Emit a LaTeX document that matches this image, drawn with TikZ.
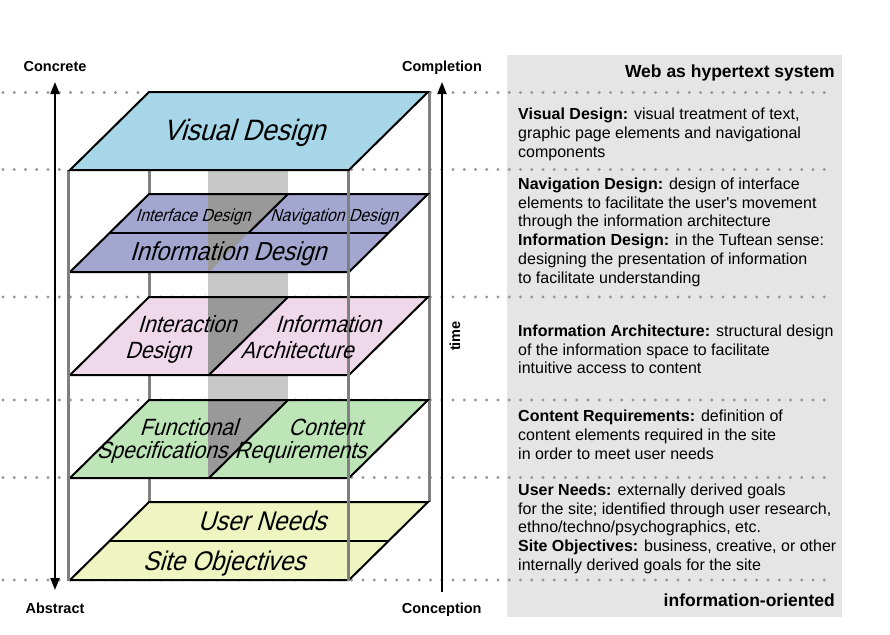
\documentclass[tikz,border=0pt]{standalone}
\usepackage{fontspec}
\setmainfont{Liberation Sans}
\newfontfamily\layerfont[FakeSlant=0.3,FakeStretch=0.9]{Liberation Sans}
\usetikzlibrary{arrows.meta}
\definecolor{vdblue}{RGB}{166,214,231}
\definecolor{lavl}{RGB}{163,166,207}
\definecolor{pinkl}{RGB}{239,216,234}
\definecolor{greenl}{RGB}{189,229,184}
\definecolor{yelll}{RGB}{238,245,192}
\definecolor{bandgray}{RGB}{200,200,200}
\definecolor{darkband}{RGB}{153,153,153}
\definecolor{postgray}{RGB}{128,128,128}
\definecolor{panelgray}{RGB}{229,229,229}
\definecolor{dotgray}{RGB}{150,150,150}
\begin{document}
\begin{tikzpicture}[x=1pt,y=-1pt,
  layer/.style={draw=black,line width=2pt,line join=miter},
  divider/.style={draw=black,line width=2pt},
  post/.style={draw=postgray,line width=3pt},
  dotrow/.style={draw=dotgray,line width=3.4pt,line cap=round,dash pattern=on 0pt off 11.25pt},
  axisline/.style={draw=black,line width=2pt},
  endlabel/.style={font=\fontsize{14.5}{17}\selectfont\bfseries,inner sep=0pt,anchor=base},
  desc/.style={font=\fontsize{16}{18.8}\selectfont,align=left,anchor=north west,inner sep=0pt},
  headlabel/.style={font=\fontsize{17.5}{20}\selectfont\bfseries,inner sep=0pt,anchor=base east},
  ltext/.style={inner sep=0pt,anchor=base},
  bigl/.style={ltext,font=\layerfont\fontsize{29.5}{32}\selectfont},
  midl/.style={ltext,font=\layerfont\fontsize{26}{30}\selectfont},
  smalll/.style={ltext,font=\layerfont\fontsize{17.5}{20}\selectfont},
  twol/.style={ltext,font=\layerfont\fontsize{23.5}{26}\selectfont},
  basel/.style={ltext,font=\layerfont\fontsize{27}{30}\selectfont}
]
\useasboundingbox (0,0) rectangle (890,634);
% right panel
\fill[panelgray] (507,55) rectangle (842,617);
% dotted rows
\foreach \yy in {92.5,169.5,297,400,477.5,580}
  \draw[dotrow] (3,\yy) -- (834,\yy);
% vertical band
\fill[bandgray] (208,170) rectangle (288,400);
% back posts
\draw[post] (149,170) -- (149,502);
\draw[post] (429,92) -- (429,502);
% layer 5: user needs / site objectives
\fill[yelll] (149,502) -- (428,502) -- (349,580) -- (70,580) -- cycle;
\draw[divider] (109.5,541) -- (388.5,541);
\draw[layer] (149,502) -- (428,502) -- (349,580) -- (70,580) -- cycle;
% layer 4
\fill[greenl] (149,400) -- (428,400) -- (349,478) -- (70,478) -- cycle;
\fill[darkband] (208,400) -- (288,400) -- (209,478) -- (208,478) -- cycle;
\draw[divider] (288,400) -- (209,478);
\draw[layer] (149,400) -- (428,400) -- (349,478) -- (70,478) -- cycle;
% layer 3
\fill[pinkl] (149,297) -- (428,297) -- (349,375) -- (70,375) -- cycle;
\fill[darkband] (208,297) -- (288,297) -- (209,375) -- (208,375) -- cycle;
\draw[divider] (288,297) -- (209,375);
\draw[layer] (149,297) -- (428,297) -- (349,375) -- (70,375) -- cycle;
% layer 2
\fill[lavl] (149,194) -- (428,194) -- (349,272) -- (70,272) -- cycle;
\fill[darkband] (208,194) -- (288,194) -- (209,272) -- (208,272) -- cycle;
\draw[divider] (288,194) -- (248.5,233);
\draw[divider] (109.5,233) -- (388.5,233);
\draw[layer] (149,194) -- (428,194) -- (349,272) -- (70,272) -- cycle;
% front posts
\draw[post] (68.5,170) -- (68.5,581);
\draw[post] (348.5,170) -- (348.5,581);
% layer 1
\filldraw[layer,fill=vdblue] (149,92) -- (428,92) -- (349,170) -- (70,170) -- cycle;
% layer texts
\node[bigl] (vd) at (244,140) {Visual Design};
\node[smalll] (ifd) at (193,221) {Interface Design};
\node[smalll] (nvd) at (334,221) {Navigation Design};
\node[midl] (ind) at (228,260) {Information Design};
\node[twol] (ixa) at (187,332) {Interaction};
\node[twol] (ixb) at (158,358) {Design};
\node[twol] (iaa) at (328,332) {Information};
\node[twol] (iab) at (297,358) {Architecture};
\node[twol] (fsa) at (188.5,435) {Functional};
\node[twol] (fsb) at (162,458) {Specifications};
\node[twol] (cra) at (325.5,435) {Content};
\node[twol] (crb) at (300.5,458) {Requirements};
\node[basel] (un) at (262,530) {User Needs};
\node[basel] (so) at (224,570) {Site Objectives};
% axes
\coordinate (lt) at (55,82);
\coordinate (lb) at (55,590);
\coordinate (rt) at (442,82);
\coordinate (rb) at (442,592);
\draw[axisline,{Triangle[length=12pt,width=9pt]}-{Triangle[length=12pt,width=9pt]}] (lb) -- (lt);
\draw[axisline,-{Triangle[length=12pt,width=9pt]}] (rb) -- (rt);
\node[endlabel] (concrete) at (55,71.5) {Concrete};
\node[endlabel] (completion) at (442,71.5) {Completion};
\node[endlabel] (abstract) at (55,613) {Abstract};
\node[endlabel] (conception) at (441.7,613) {Conception};
\node[endlabel,rotate=90] (time) at (460,336) {time};
% right panel texts
\node[headlabel] (hyper) at (835,77.3) {Web as hypertext system};
\node[headlabel] (infoor) at (835,606.7) {information-oriented};
\node[desc] (d1) at (518,106.2) {\strut\textbf{Visual Design:} visual treatment of text,\\graphic page elements and navigational\\components};
\node[desc] (d2) at (518,175.9) {\strut\textbf{Navigation Design:} design of interface\\elements to facilitate the user\textquotesingle s movement\\through the information architecture\\\textbf{Information Design:} in the Tuftean sense:\\designing the presentation of information\\to facilitate understanding};
\node[desc] (d3) at (518,322.9) {\strut\textbf{Information Architecture:} structural design\\of the information space to facilitate\\intuitive access to content};
\node[desc] (d4) at (518,408.6) {\strut\textbf{Content Requirements:} definition of\\content elements required in the site\\in order to meet user needs};
\node[desc] (d5) at (518,481.9) {\strut\textbf{User Needs:} externally derived goals\\for the site; identified through user research,\\ethno/techno/psychographics, etc.\\\textbf{Site Objectives:} business, creative, or other\\internally derived goals for the site};
\end{tikzpicture}
\end{document}
